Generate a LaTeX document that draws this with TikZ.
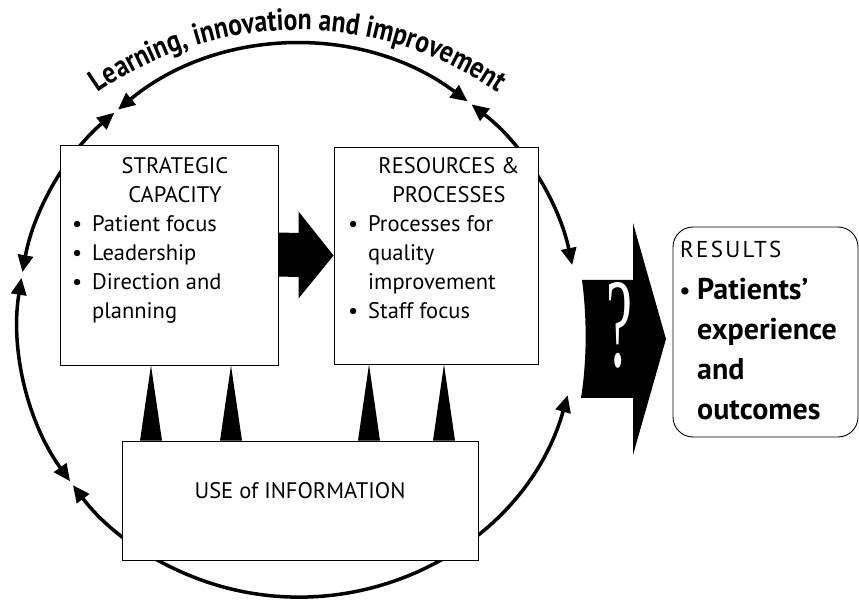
\documentclass[tikz,border=0pt]{standalone}
\usepackage{fontspec}
\usepackage{graphicx}
\setmainfont{PT Sans}
\newfontfamily\qmarkfont{Liberation Serif}
\newfontfamily\spacedfont[LetterSpace=10]{PT Sans}
\newfontfamily\titlefont[FakeStretch=0.84]{PT Sans}
\usetikzlibrary{arrows.meta,calc,decorations.text}
\newcommand\bul{\makebox[20pt][l]{•}}
\begin{document}
\begin{tikzpicture}[x=1pt,y=1pt,
  framebox/.style={draw=black, line width=0.9pt, fill=white, inner sep=0pt},
  cyclearc/.style={line width=3.5pt,
    {Triangle[length=17pt,width=15pt]}-{Triangle[length=17pt,width=15pt]}},
  boxtext/.style={font=\fontsize{22.5}{27}\selectfont, inner sep=0pt, anchor=base west},
  headtext/.style={font=\fontsize{22.5}{27}\selectfont, inner sep=0pt, anchor=base},
  restext/.style={font=\fontsize{30}{36}\selectfont\bfseries, inner sep=0pt, anchor=base west},
  ]
\useasboundingbox (0,0) rectangle (859,600);
\coordinate (cyc) at (298,279);

% the improvement cycle: five double-headed arcs on one ellipse
\foreach \a/\b in {52.7/130, 51.7/11.7, -15.6/-143.5, 215.5/171, 169.8/131}
  \draw[cyclearc] ($(cyc)+(\a:280pt and 276pt)$)
    arc[start angle=\a, end angle=\b, x radius=280pt, y radius=276pt];

% heading set along the top of the cycle
\coordinate (arcc) at (298,220);
\path[decorate, decoration={text along path, text format delimiters={|}{|},
    text={|\fontsize{30.5}{34}\titlefont\bfseries|Learning, innovation and improvement},
    text align=center}]
  ($(arcc)+(142:350pt)$) arc[start angle=142, end angle=38, radius=350pt];

% boxes
\node[framebox, minimum width=218pt, minimum height=220pt] (strat) at (169,345) {};
\node[framebox, minimum width=204pt, minimum height=217pt] (res) at (436,344.5) {};
\node[framebox, minimum width=356pt, minimum height=119pt] (use) at (300,99.5) {};
\node[framebox, rounded corners=20pt, minimum width=185pt, minimum height=210pt] (results) at (765.5,268) {};

% block arrow from strategic capacity to resources
\fill ($(strat.east)+(0,22.5)$) -- ($(res.west)+(-35,22.5)$) -- ($(res.west)+(-35,44)$)
  -- (res.west) -- ($(res.west)+(-35,-43)$) -- ($(res.west)+(-35,-21.5)$)
  -- ($(strat.east)+(0,-21.5)$) -- cycle;

% spikes from information up to the two boxes
\foreach \x/\t in {151/strat, 231/strat, 369/res, 444/res}
  \fill (\x-11,0 |- use.north) -- (\x,0 |- \t.south) -- (\x+11,0 |- use.north) -- cycle;

% the uncertain link towards results
\fill (582,320) -- (633,320) -- (633,377) -- (666,261) -- (633,145) -- (633,202)
  -- (581,202) .. controls (587,240) and (587,282) .. (582,320) -- cycle;
\node[text=white, inner sep=0pt] (qmark) at (619.5,275) {\resizebox{26pt}{84pt}{\qmarkfont ?}};

% strategic capacity
\node[headtext] (s1) at (175,426) {STRATEGIC};
\node[headtext] (s2) at (175,397) {CAPACITY};
\node[boxtext] (s3) at (72,368) {\bul Patient focus};
\node[boxtext] (s4) at (72,339) {\bul Leadership};
\node[boxtext] (s5) at (72,310) {\bul Direction and};
\node[boxtext] (s6) at (92,281) {planning};

% resources and processes
\node[headtext] (p1) at (449,426) {RESOURCES \&};
\node[headtext] (p2) at (449,397) {PROCESSES};
\node[boxtext] (p3) at (348,368) {\bul Processes for};
\node[boxtext] (p4) at (368,339) {quality};
\node[boxtext] (p5) at (368,310) {improvement};
\node[boxtext] (p6) at (348,281) {\bul Staff focus};

% use of information
\node[headtext] (u1) at (300,102) {USE of INFORMATION};

% results
\node[inner sep=0pt, anchor=base west, font=\fontsize{23}{28}\selectfont\spacedfont] (r1) at (680,342) {RESULTS};
\node[restext] (r2) at (679,300) {\makebox[18pt][l]{\mdseries\fontsize{26}{26}\selectfont •}Patients’};
\node[restext] (r3) at (697,260) {experience};
\node[restext] (r4) at (697,220) {and};
\node[restext] (r5) at (697,180) {outcomes};
\end{tikzpicture}
\end{document}
